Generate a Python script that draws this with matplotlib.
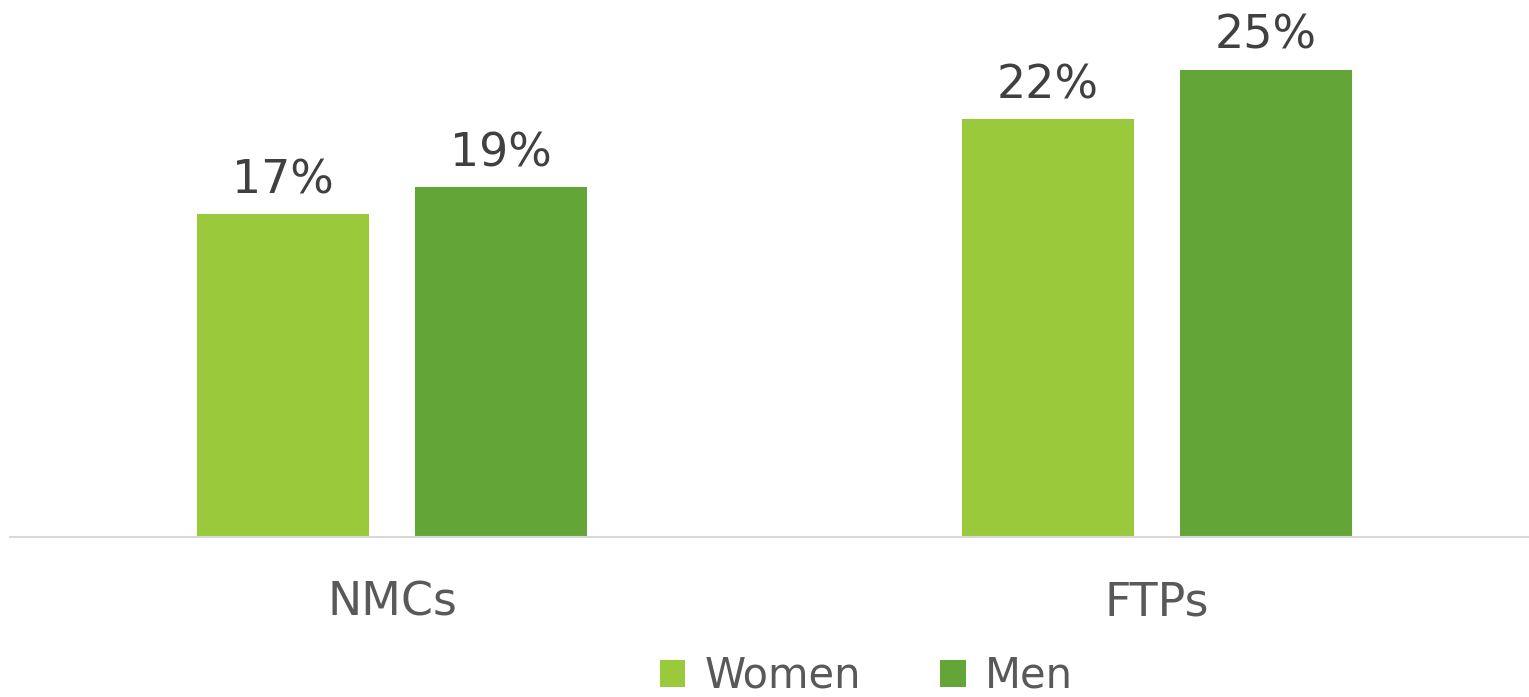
import matplotlib
matplotlib.use("Agg")
import matplotlib.pyplot as plt
from matplotlib.patches import Patch

categories = ["NMCs", "FTPs"]
series_names = ["Women", "Men"]
women = [17.0, 22.0]
men = [18.4, 24.6]
women_labels = ["17%", "22%"]
men_labels = ["19%", "25%"]

colors = ["#9ACA3C", "#63A537"]
W, H = 1529, 697
fig = plt.figure(figsize=(W / 100, H / 100), dpi=100)
ax = fig.add_axes([9.5 / W, 1 - 537 / H, 1530 / W, 537 / H])
ax.set_xlim(-0.5, 1.5)
ax.set_ylim(0, 537 / 19)

x = list(range(len(categories)))
bw = 0.225
off = 0.1425
font = "DejaVu Sans"
for vals, labs, sgn, col in [(women, women_labels, -1, colors[0]), (men, men_labels, 1, colors[1])]:
    xs = [xi + sgn * off for xi in x]
    ax.bar(xs, vals, width=bw, color=col, zorder=2)
    for xi, v, lab in zip(xs, vals, labs):
        ax.annotate(lab, (xi, v), xytext=(0, 15), textcoords="offset points",
                    ha="center", va="baseline", fontsize=33, color="#404040", family=font)

for s in ["top", "right", "left"]:
    ax.spines[s].set_visible(False)
ax.spines["bottom"].set_color("#D9D9D9")
ax.spines["bottom"].set_linewidth(1.5)
ax.set_yticks([])
ax.set_xticks([])
for xi, c in zip(x, categories):
    ax.text(xi, -(615 - 537) / 537, c, transform=ax.get_xaxis_transform(),
            ha="center", va="baseline", fontsize=33, color="#595959", family=font)

handles = [Patch(facecolor=colors[i], label=series_names[i]) for i in range(2)]
leg = fig.legend(handles=handles, loc="center", bbox_to_anchor=(866 / W, 1 - 676 / H),
                 ncol=2, frameon=False, fontsize=30, handlelength=0.62, handleheight=0.62,
                 handletextpad=0.45, columnspacing=1.9, borderaxespad=0, borderpad=0)
for t in leg.get_texts():
    t.set_color("#595959")
    t.set_family(font)

fig.savefig("out.png", dpi=100)
